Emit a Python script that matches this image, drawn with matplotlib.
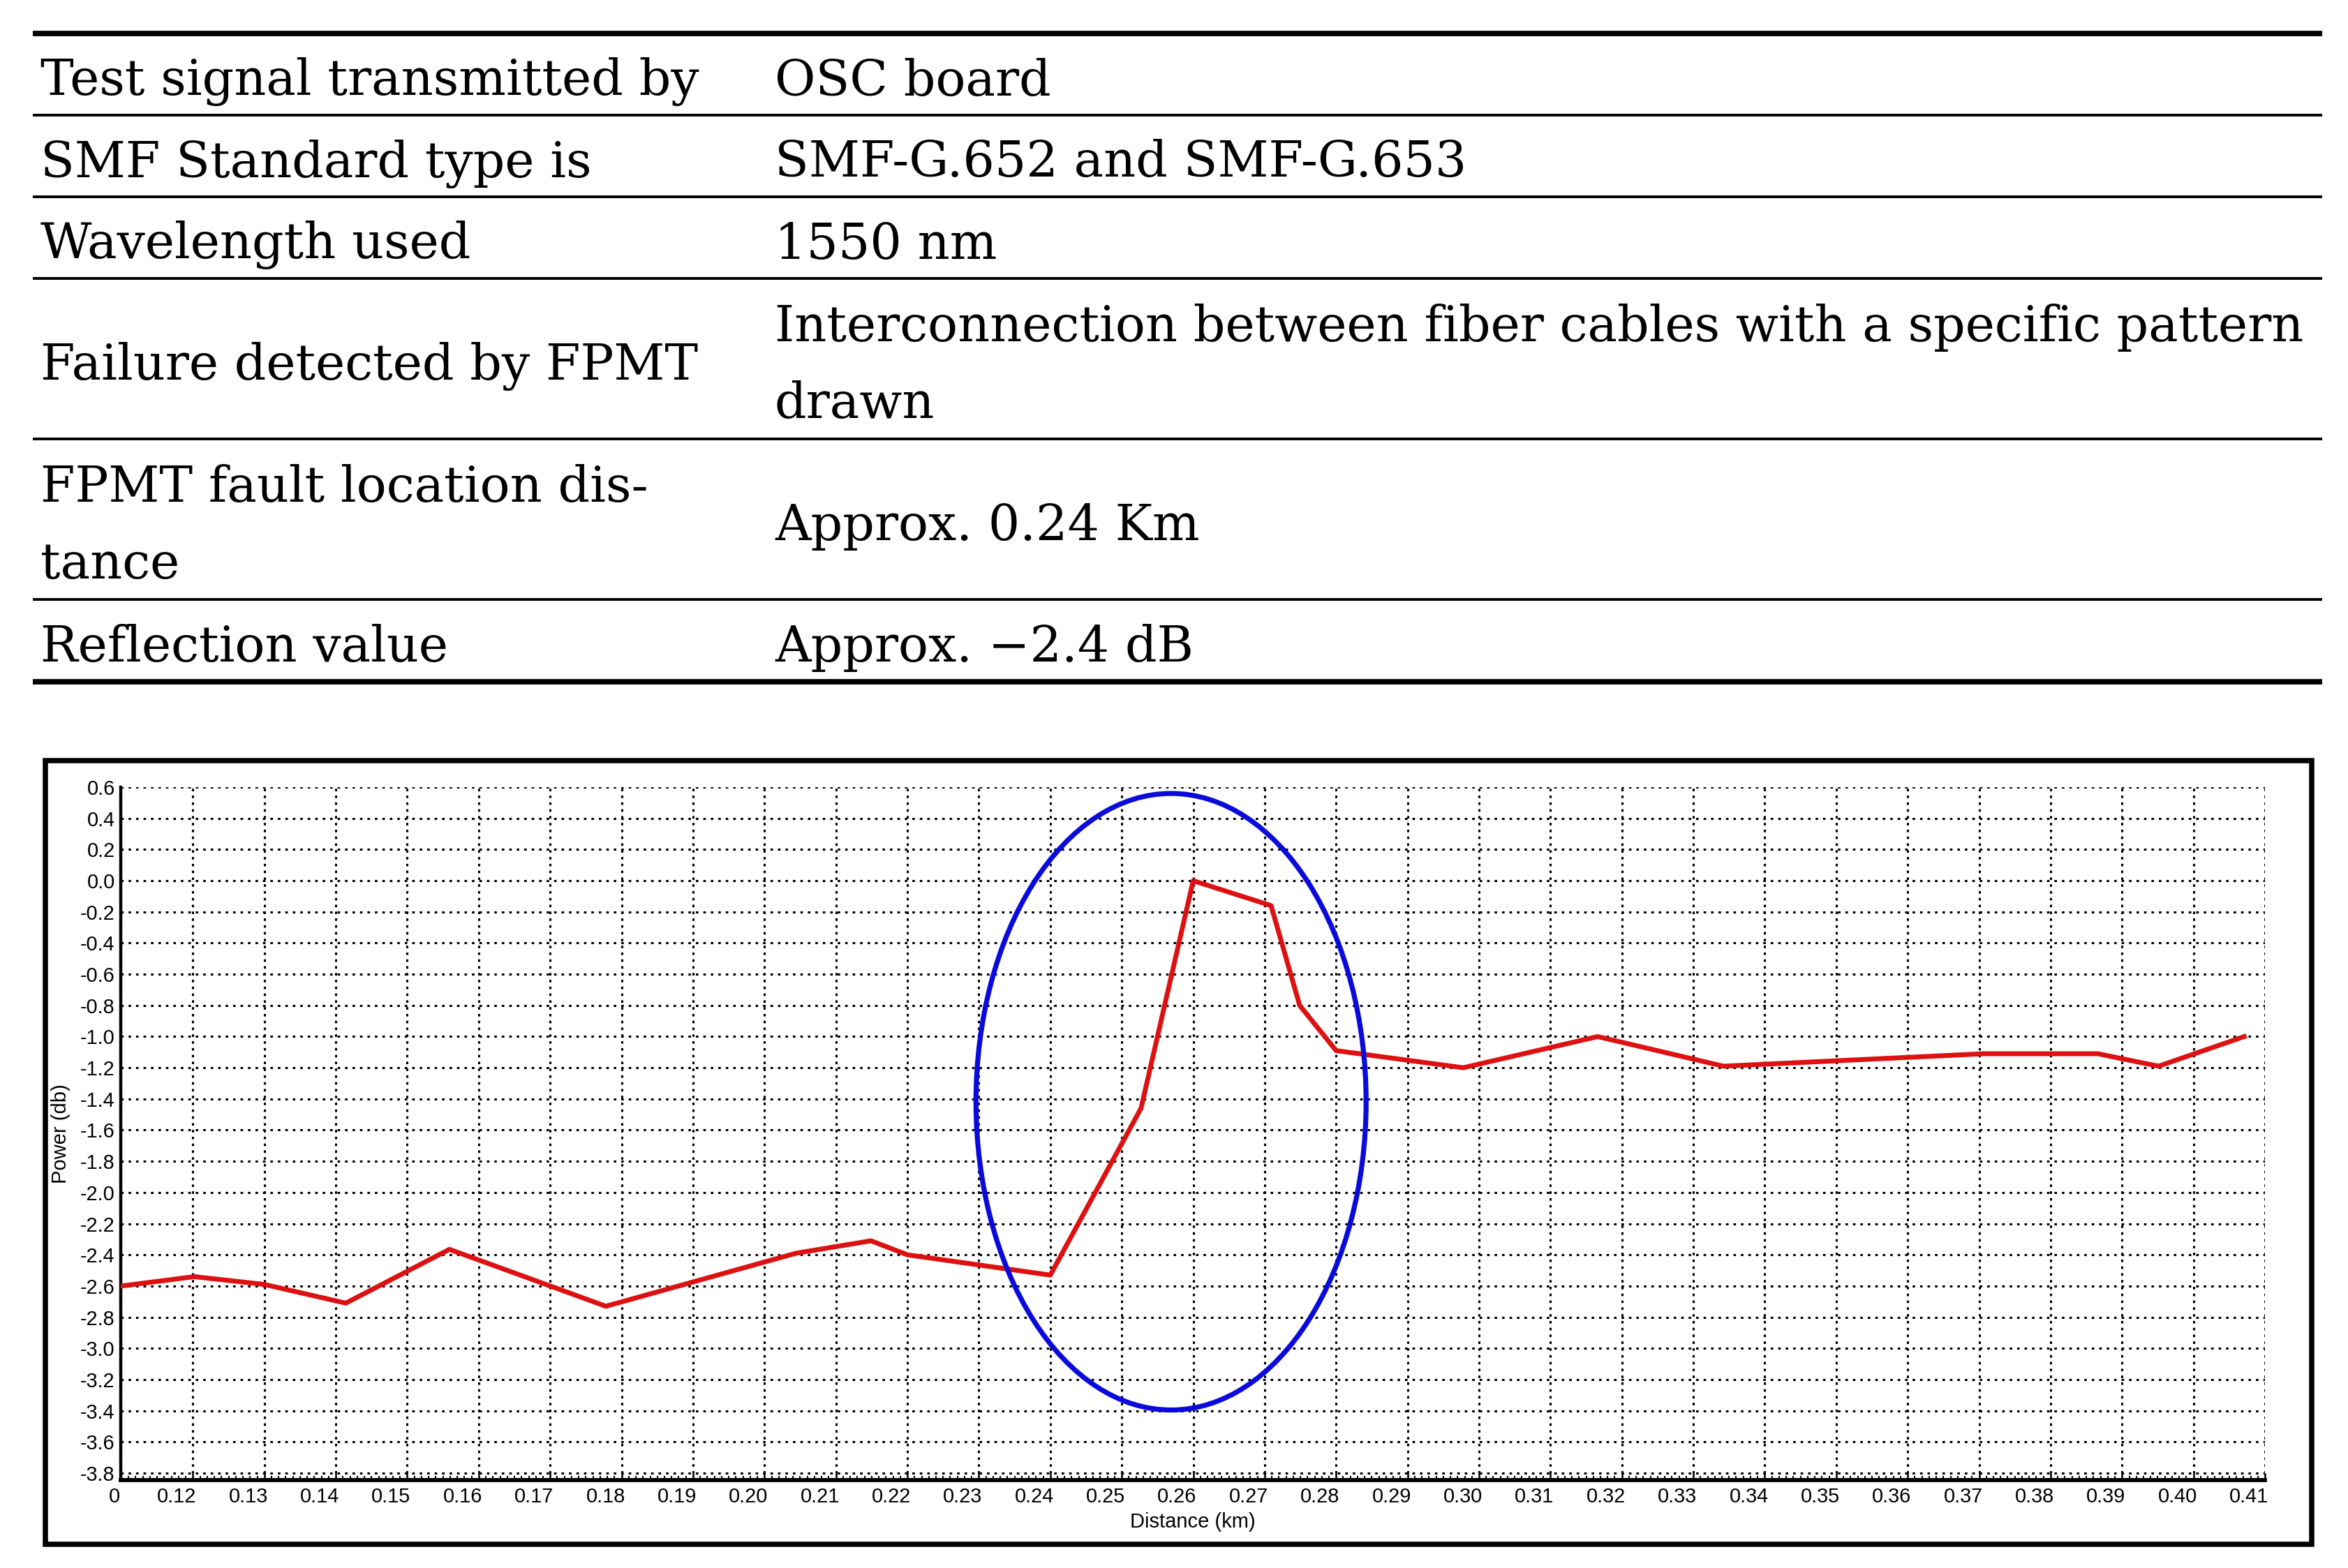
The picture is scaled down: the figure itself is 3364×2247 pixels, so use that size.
import numpy as np
import matplotlib.pyplot as plt
import matplotlib.transforms as mtransforms
from matplotlib.patches import Rectangle, Ellipse
from matplotlib.ticker import MultipleLocator, FixedLocator

plt.rcParams['axes.unicode_minus'] = False

# ---- table content ----
param_names = ["Test signal transmitted by", "SMF Standard type is", "Wavelength used",
               "Failure detected by FPMT", "FPMT fault location dis-\ntance", "Reflection value"]
param_values = ["OSC board", "SMF-G.652 and SMF-G.653", "1550 nm",
                "Interconnection between fiber cables with a specific pattern\ndrawn",
                "Approx. 0.24 Km", "Approx. \u22122.4 dB"]

# ---- OTDR trace ----
dist_km = [0.110, 0.1202, 0.130, 0.1414, 0.1559, 0.1778, 0.2044, 0.2149, 0.220, 0.240,
           0.2527, 0.260, 0.2709, 0.2749, 0.280, 0.2978, 0.3166, 0.3342, 0.3707, 0.3866,
           0.3951, 0.4071]
power_db = [-2.60, -2.54, -2.59, -2.71, -2.365, -2.73, -2.39, -2.31, -2.40, -2.53,
            -1.46, 0.00, -0.16, -0.80, -1.09, -1.20, -1.00, -1.19, -1.11, -1.11,
            -1.19, -1.00]
x_tick_labels = ["0", "0.12", "0.13", "0.14", "0.15", "0.16", "0.17", "0.18", "0.19", "0.20",
                 "0.21", "0.22", "0.23", "0.24", "0.25", "0.26", "0.27", "0.28", "0.29", "0.30",
                 "0.31", "0.32", "0.33", "0.34", "0.35", "0.36", "0.37", "0.38", "0.39", "0.40",
                 "0.41"]
y_tick_labels = ["0.6", "0.4", "0.2", "0.0", "-0.2", "-0.4", "-0.6", "-0.8", "-1.0", "-1.2",
                 "-1.4", "-1.6", "-1.8", "-2.0", "-2.2", "-2.4", "-2.6", "-2.8", "-3.0", "-3.2",
                 "-3.4", "-3.6", "-3.8"]
x_start = 0.1099
# marked fault region (centre, width, height)
fault_center = (0.2569, -1.418)
fault_size = (0.0546, 3.955)

W, H = 3364, 2247
fig = plt.figure(figsize=(W / 200, H / 200), dpi=200)

# background axes in pixel units for the table and the frame
bg = fig.add_axes([0, 0, 1, 1])
bg.set_xlim(0, W)
bg.set_ylim(H, 0)
bg.axis('off')

rule_y = [48, 165, 282, 399, 629, 859, 977]
for i, y in enumerate(rule_y):
    lw = 2.8 if i in (0, len(rule_y) - 1) else 1.4
    bg.plot([47, 3327], [y, y], color='black', lw=lw, solid_capstyle='butt')

for i in range(len(param_names)):
    mid = (rule_y[i] + rule_y[i + 1]) / 2
    for col_x, cell in ((58, param_names[i]), (1110, param_values[i])):
        lines = cell.split("\n")
        base = mid + 30 - (len(lines) - 1) * 55
        for k, line in enumerate(lines):
            bg.text(col_x, base + k * 110, line, fontsize=25.7, family='DejaVu Serif',
                    va='baseline', ha='left', color='black')

bg.add_patch(Rectangle((65.5, 1090), 3312 - 65.5, 2213 - 1090, fill=False,
                       edgecolor='black', lw=2.7))

# ---- chart ----
ax = fig.add_axes([173 / W, 1 - 2121 / H, (3245 - 173) / W, (2121 - 1128) / H])
ax.plot(dist_km, power_db, color='#DD1111', lw=2.5, zorder=3)
ax.add_patch(Ellipse(fault_center, fault_size[0], fault_size[1], fill=False,
                     edgecolor='#0A0ADC', lw=2.6, zorder=4))

ax.set_xlim(x_start, 0.41)
ax.set_ylim(-3.845, 0.6)

x_pos = [x_start] + [float(t) for t in x_tick_labels[1:]]
ax.xaxis.set_major_locator(FixedLocator(x_pos))
ax.set_xticklabels(x_tick_labels, fontsize=10.4, family='Liberation Sans')
ax.xaxis.set_minor_locator(MultipleLocator(0.001))
ax.set_yticks([float(t) for t in y_tick_labels])
ax.set_yticklabels(y_tick_labels, fontsize=10.4, family='Liberation Sans')

ax.tick_params(axis='x', which='major', direction='in', length=3.5, width=0.9, pad=3.5)
ax.tick_params(axis='x', which='minor', direction='in', length=2.3, width=0.7)
ax.tick_params(axis='y', length=0, pad=3)

# labels sit a little left of their grid line in the original
for k, lab in enumerate(ax.get_xticklabels()):
    dx = -9 if k == 0 else -23
    lab.set_transform(lab.get_transform() + mtransforms.ScaledTranslation(dx / 200, 0, fig.dpi_scale_trans))

ax.xaxis.grid(True, color='black', linestyle=(0, (1.2, 2.0)), lw=1.1)
ax.yaxis.grid(True, color='black', linestyle=(0, (1.2, 2.3)), lw=1.1)
ax.set_axisbelow(True)

for s in ('top', 'right'):
    ax.spines[s].set_visible(False)
ax.spines['left'].set_linewidth(1.6)
ax.spines['bottom'].set_linewidth(2.1)

ax.set_xlabel('Distance (km)', fontsize=10.5, family='Liberation Sans', labelpad=3)
ax.set_ylabel('Power (db)', fontsize=10.5, family='Liberation Sans', labelpad=5)

fig.savefig('out.png', dpi=200)
